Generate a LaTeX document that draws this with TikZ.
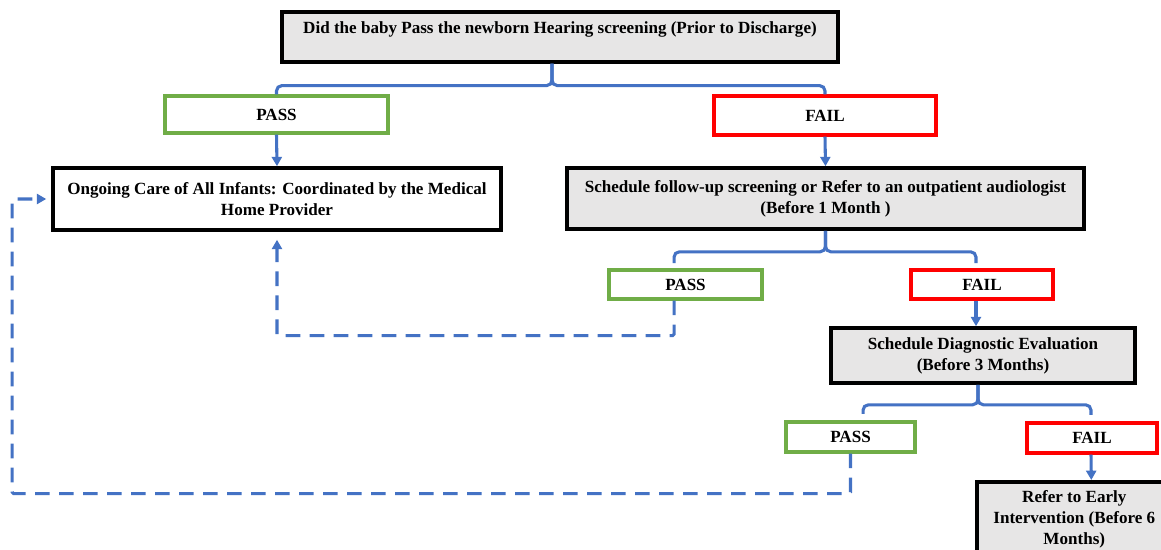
\documentclass[tikz,border=0pt]{standalone}
\usepackage{fontspec}
\setmainfont{Liberation Serif}
\usetikzlibrary{arrows.meta,calc}
\definecolor{lnblue}{HTML}{4472C4}
\definecolor{okgreen}{HTML}{70AD47}
\definecolor{ngred}{HTML}{FF0000}
\definecolor{boxgray}{HTML}{E7E6E6}
\begin{document}
\begin{tikzpicture}[x=0.75pt,y=-0.75pt,
 every node/.style={font=\fontsize{12.8}{15.75}\selectfont\bfseries, inner sep=0pt},
 graybox/.style={draw=black, line width=2.7pt, fill=boxgray},
 whitebox/.style={draw=black, line width=2.7pt, fill=white},
 passbox/.style={draw=okgreen, line width=2.3pt, fill=white},
 failbox/.style={draw=ngred, line width=2.3pt, fill=white},
 conn/.style={draw=lnblue, line width=2.3pt, rounded corners=4pt},
 arr/.style={conn, -{Triangle[width=7.5pt,length=7pt]}},
 dasharr/.style={arr, dash pattern=on 11pt off 7pt, rounded corners=1pt}
]
\useasboundingbox (0,0) rectangle (1161,550);
\fill[white] (0,0) rectangle (1161,550);

\node[graybox, anchor=north, minimum width=417pt, text height=16.5pt, text depth=21pt] (top) at (560,10) {Did the baby Pass the newborn Hearing screening (Prior to Discharge)};
\node[passbox, minimum width=167.25pt, minimum height=27.75pt] (pass1) at (276.5,114.5) {PASS};
\node[failbox, minimum width=166.5pt, minimum height=29.25pt] (fail1) at (825,115.5) {FAIL};
\node[whitebox, align=center, minimum width=336pt, minimum height=46.5pt] (care) at (277,199) {Ongoing Care of All Infants: Coordinated by the Medical\\Home Provider};
\node[graybox, align=center, minimum width=387.75pt, minimum height=45.75pt] (sched) at (825.5,198.5) {Schedule follow-up screening or Refer to an outpatient audiologist\\(Before 1 Month )};
\node[passbox, minimum width=114.75pt, minimum height=21.75pt] (pass2) at (685.5,284.5) {PASS};
\node[failbox, minimum width=106.5pt, minimum height=21.75pt] (fail2) at (982,284.5) {FAIL};
\node[graybox, align=center, minimum width=228pt, minimum height=41.25pt] (diag) at (983,355.5) {Schedule Diagnostic Evaluation\\(Before 3 Months)};
\node[passbox, minimum width=96.75pt, minimum height=22.5pt] (pass3) at (850.5,437) {PASS};
\node[failbox, minimum width=97.5pt, minimum height=22.5pt] (fail3) at (1092,438) {FAIL};
\node[graybox, align=center, anchor=north west, minimum width=146.25pt, minimum height=56pt] (refer) at (975,480) {Refer to Early\\Intervention (Before 6\\Months)};

% level 1
\draw[conn] ([xshift=-6pt]top.south) -- ++(0,22) -| (pass1.north);
\draw[conn] ([xshift=-6pt]top.south) -- ++(0,22) -| (fail1.north);
\draw[arr] (pass1.south) -- (care.north);
\draw[arr] (fail1.south) -- (sched.north);
% level 2
\draw[conn] (sched.south) -- ++(0,21) -| ([xshift=-8.6pt,yshift=4pt]pass2.north);
\draw[conn] (sched.south) -- ++(0,21) -| ([xshift=-4.5pt,yshift=4pt]fail2.north);
\draw[dasharr] ([xshift=-8.6pt]pass2.south) -- ++(0,35) -| ([yshift=-6pt]care.south);
\draw[arr] ([xshift=-4.5pt]fail2.south) -- ([xshift=-5.25pt]diag.north);
% level 3
\draw[conn] ([xshift=-3.75pt]diag.south) -- ++(0,20) -| ([xshift=9.4pt,yshift=5pt]pass3.north);
\draw[conn] ([xshift=-3.75pt]diag.south) -- ++(0,20) -| ([xshift=-0.75pt,yshift=5pt]fail3.north);
\draw[dasharr] (pass3.south) -- ++(0,40) -| ([xshift=-29.25pt]care.west) -- ([xshift=-3.75pt]care.west);
\draw[arr] ([xshift=-0.75pt]fail3.south) -- ([xshift=87.25pt]refer.north west);
\end{tikzpicture}
\end{document}
